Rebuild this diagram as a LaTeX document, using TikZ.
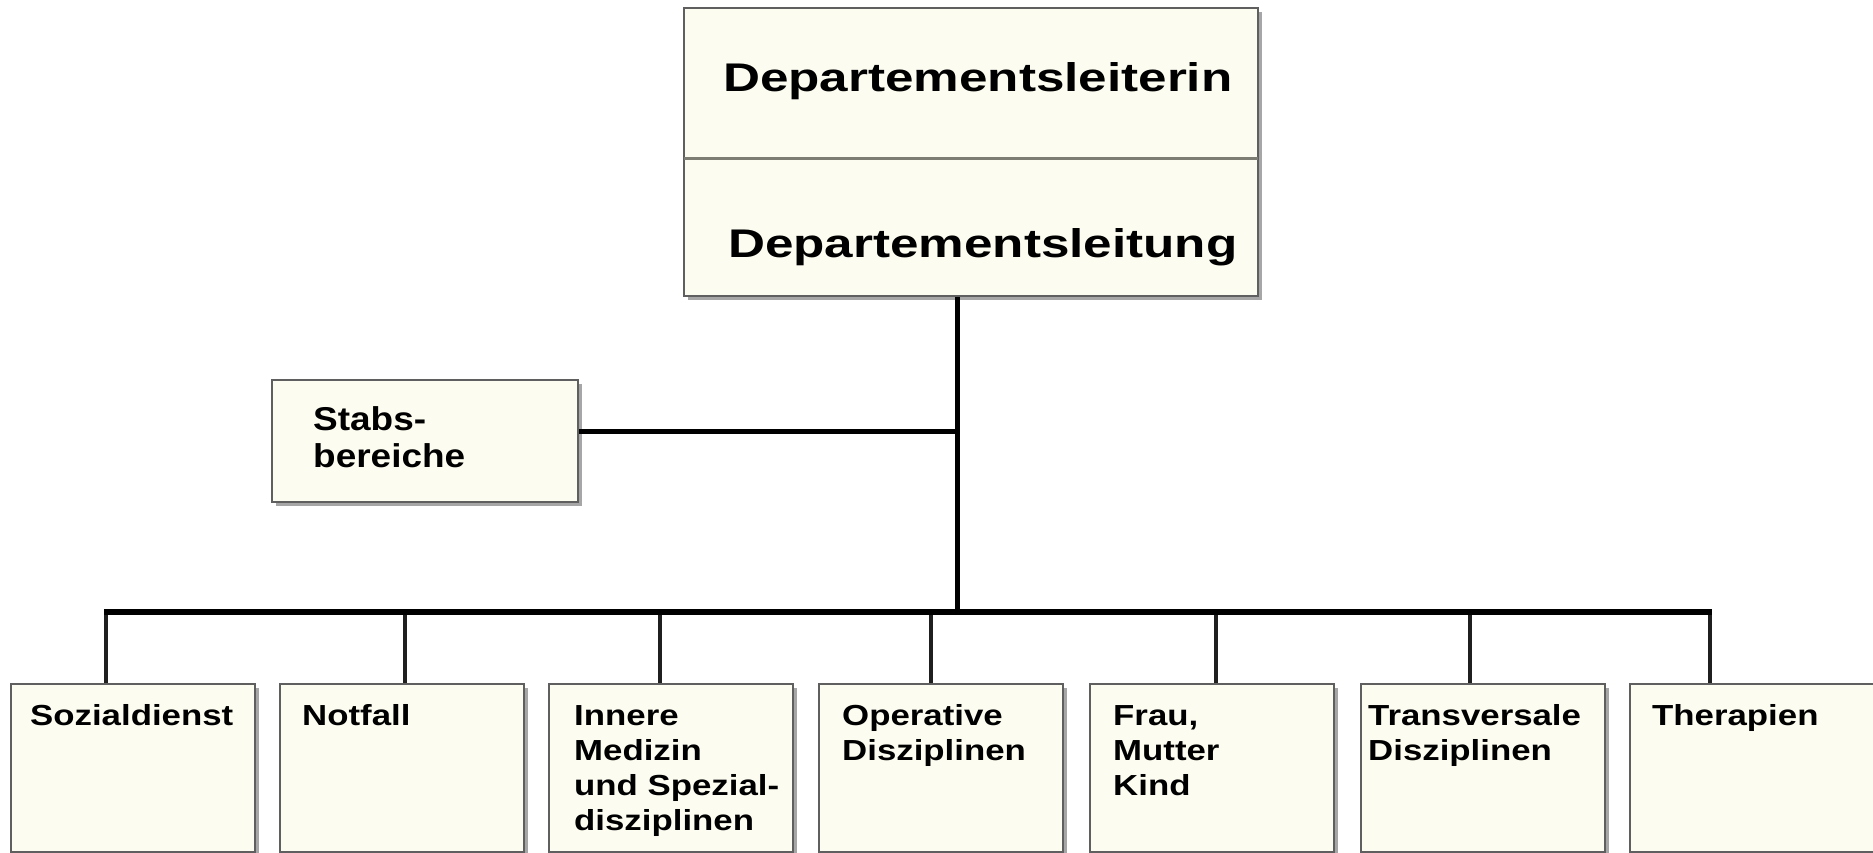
\documentclass[tikz,border=0pt]{standalone}
\usepackage{fontspec}
\setmainfont{Liberation Sans}
\newfontfamily\topfont{Liberation Sans}[FakeStretch=1.28]
\newfontfamily\stabfont{Liberation Sans}[FakeStretch=1.12]
\newfontfamily\botfont{Liberation Sans}[FakeStretch=1.2]
\usetikzlibrary{shadows}
\definecolor{boxfill}{RGB}{252,252,240}
\definecolor{boxborder}{RGB}{95,95,95}
\definecolor{divider}{RGB}{125,125,115}
\begin{document}
\begin{tikzpicture}[x=1pt,y=-1pt,
  box/.style={draw=boxborder, line width=2pt, fill=boxfill, rectangle, inner sep=0pt,
    drop shadow={shadow xshift=4pt, shadow yshift=-4pt, opacity=0.35, fill=black}},
  botbox/.style={box, minimum width=244pt, minimum height=168pt},
  toptext/.style={anchor=base west, inner sep=0pt, font=\topfont\bfseries\fontsize{40}{48}\selectfont},
  stabtext/.style={anchor=base west, inner sep=0pt, align=left, font=\stabfont\bfseries\fontsize{33}{37}\selectfont},
  bottext/.style={anchor=base west, inner sep=0pt, align=left, font=\botfont\bfseries\fontsize{29}{35}\selectfont},
  conn/.style={draw=black, line width=5pt},
  bus/.style={draw=black, line width=6pt},
  drop/.style={draw=black!88, line width=4.5pt}
]
\useasboundingbox (0,0) rectangle (1873,853);

% boxes
\node[box, minimum width=574pt, minimum height=288pt] (top) at (971,152) {};
\node[box, minimum width=306pt, minimum height=122pt] (stabs) at (425,441) {};
\node[botbox] (b1) at (132.5,768) {};
\node[botbox] (b2) at (401.5,768) {};
\node[botbox] (b3) at (671,768) {};
\node[botbox] (b4) at (941,768) {};
\node[botbox] (b5) at (1212,768) {};
\node[botbox] (b6) at (1482.5,768) {};
\node[botbox] (b7) at (1752,768) {};

% divider in top box
\coordinate (dv) at (0,159);
\draw[divider, line width=3pt] ([xshift=1pt]top.west |- dv) -- ([xshift=-1pt]top.east |- dv);

% texts (base anchor = baseline of the last line)
\node[toptext] (t1) at (723,92) {Departementsleiterin};
\node[toptext] (t2) at (728,257) {Departementsleitung};
\node[stabtext] (st) at (313,467) {Stabs-\\bereiche};
\node[bottext] (l1) at (30,725) {Sozialdienst};
\node[bottext] (l2) at (302,725) {Notfall};
\node[bottext] (l3) at (574,830) {Innere\\Medizin\\und Spezial-\\disziplinen};
\node[bottext] (l4) at (842,760) {Operative\\Disziplinen};
\node[bottext] (l5) at (1113,795) {Frau,\\Mutter\\Kind};
\node[bottext] (l6) at (1368,760) {Transversale\\Disziplinen};
\node[bottext] (l7) at (1652,725) {Therapien};

% connectors
\coordinate (j) at (957,612);
\coordinate (s) at (957,431);
\coordinate (d1) at (106,612);
\coordinate (d2) at (405,612);
\coordinate (d3) at (660,612);
\coordinate (d4) at (931,612);
\coordinate (d5) at (1216,612);
\coordinate (d6) at (1470,612);
\coordinate (d7) at (1710,612);

\draw[conn] (top.south -| j) -- (j);
\draw[conn] (stabs.east |- s) -- (s);
\foreach \i in {1,...,7} {
  \draw[drop] (d\i) -- (d\i |- b\i.north);
}
\draw[bus] ([xshift=-2.25pt]d1) -- ([xshift=2.25pt]d7);
\end{tikzpicture}
\end{document}
